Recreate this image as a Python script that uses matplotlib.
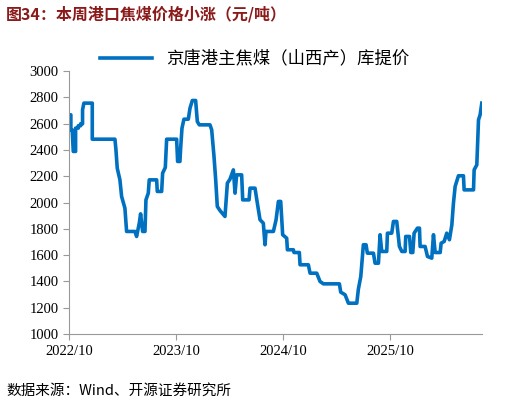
import matplotlib
matplotlib.use("Agg")
import matplotlib.pyplot as plt

# 月份偏移 (自 2022/10 起) 与价格 (元/吨)
months = [0, 0.22, 0.22, 0.37, 0.49, 0.75, 0.75, 1.05, 1.05, 1.31, 1.31, 1.53, 1.53, 1.68, 2.62, 2.62,
          5.16, 5.27, 5.42, 5.72, 5.91, 6.28, 6.47, 7.41, 7.59, 7.89, 8.04, 8.27, 8.53, 8.64, 8.90,
          9.01, 9.84, 9.91, 10.40, 10.51, 10.81, 10.96, 12.08, 12.19, 12.45, 12.53, 12.68, 12.90,
          13.39, 13.58, 13.84, 14.21, 14.40, 14.62, 15.82, 16.01, 16.27, 16.46, 16.64, 16.94,
          17.50, 17.77, 18.06, 18.44, 18.63, 18.81, 19.37, 19.49, 20.20, 20.31, 20.87, 21.06,
          21.43, 21.80, 21.99, 22.10, 22.93, 23.23, 23.49, 23.75, 23.97, 24.42, 24.50, 25.17,
          25.24, 25.84, 25.92, 26.85, 27.04, 27.79, 28.16, 28.54, 30.33, 30.48, 30.97, 31.34,
          32.28, 32.46, 32.73, 33.02, 33.32, 33.47, 34.15, 34.33, 34.71, 34.89, 35.08, 35.64,
          35.72, 36.20, 36.39, 36.76, 37.06, 37.33, 37.70, 37.77, 38.19, 38.34, 38.56, 38.71,
          39.08, 39.31, 39.38, 39.94, 40.21, 40.69, 40.88, 41.07, 41.63, 41.74, 42.08, 42.37,
          42.67, 42.94, 43.12, 43.31, 43.68, 44.24, 44.32, 45.37, 45.44, 45.74, 45.93, 46.11, 46.30]
prices = [2666, 2666, 2552, 2552, 2388, 2388, 2565, 2565, 2583, 2583, 2598, 2598, 2704, 2755, 2755, 2481,
          2481, 2405, 2261, 2172, 2046, 1957, 1780, 1780, 1742, 1843, 1914, 1780, 1780, 2020, 2071,
          2172, 2172, 2084, 2084, 2223, 2266, 2481, 2481, 2312, 2312, 2413, 2565, 2633,
          2633, 2717, 2775, 2775, 2615, 2590, 2590, 2552, 2350, 2172, 1970, 1939,
          1894, 2147, 2177, 2248, 2071, 2210, 2210, 2020, 2020, 2109, 2109, 2025,
          1869, 1843, 1679, 1780, 1780, 1869, 2008, 2008, 1755, 1729, 1641, 1641,
          1620, 1620, 1527, 1527, 1463, 1463, 1400, 1382, 1382, 1319, 1299, 1235,
          1235, 1342, 1438, 1679, 1679, 1615, 1615, 1539, 1539, 1755, 1628, 1628,
          1767, 1767, 1856, 1856, 1666, 1628, 1628, 1742, 1742, 1620, 1620, 1767,
          1805, 1805, 1666, 1666, 1590, 1577, 1755, 1620, 1620, 1691, 1704, 1767,
          1717, 1830, 1995, 2122, 2203, 2203, 2096, 2096, 2248, 2286, 2628, 2666, 2755]

tick_pos = [0, 12, 24, 36]
tick_labels = ["2022/10", "2023/10", "2024/10", "2025/10"]
yticks = list(range(1000, 3001, 200))

cjk = ["Noto Sans CJK SC", "DejaVu Sans"]
serif = "Liberation Serif"

fig = plt.figure(figsize=(5.22, 4.05), dpi=100)
ax = fig.add_axes([0.132, 0.175, 0.791, 0.65])
ax.plot(months, prices, color="#0070C0", lw=2.6, label="京唐港主焦煤（山西产）库提价")
ax.set_xlim(0, 46.3)
ax.set_ylim(1000, 3000)
ax.set_yticks(yticks)
ax.set_yticklabels([str(v) for v in yticks], fontfamily=serif, fontsize=10.5)
ax.set_xticks(tick_pos)
ax.set_xticklabels(tick_labels, fontfamily=serif, fontsize=10.5)
for s in ["top", "right"]:
    ax.spines[s].set_visible(False)
for s in ["left", "bottom"]:
    ax.spines[s].set_color("#999999")
ax.tick_params(colors="#999999", labelcolor="black", length=4)

leg = ax.legend(loc="upper center", bbox_to_anchor=(0.45, 1.14), frameon=False,
                prop={"family": cjk, "size": 12.5}, handlelength=3.0)

fig.text(0.012, 0.965, "图34：本周港口焦煤价格小涨（元/吨）", fontfamily=cjk, fontsize=11.5,
         fontweight="bold", color="#8B1A1A", va="center")
fig.text(0.012, 0.035, "数据来源：Wind、开源证券研究所", fontfamily=cjk, fontsize=10.5,
         va="center")

fig.savefig("out.png", dpi=100)
